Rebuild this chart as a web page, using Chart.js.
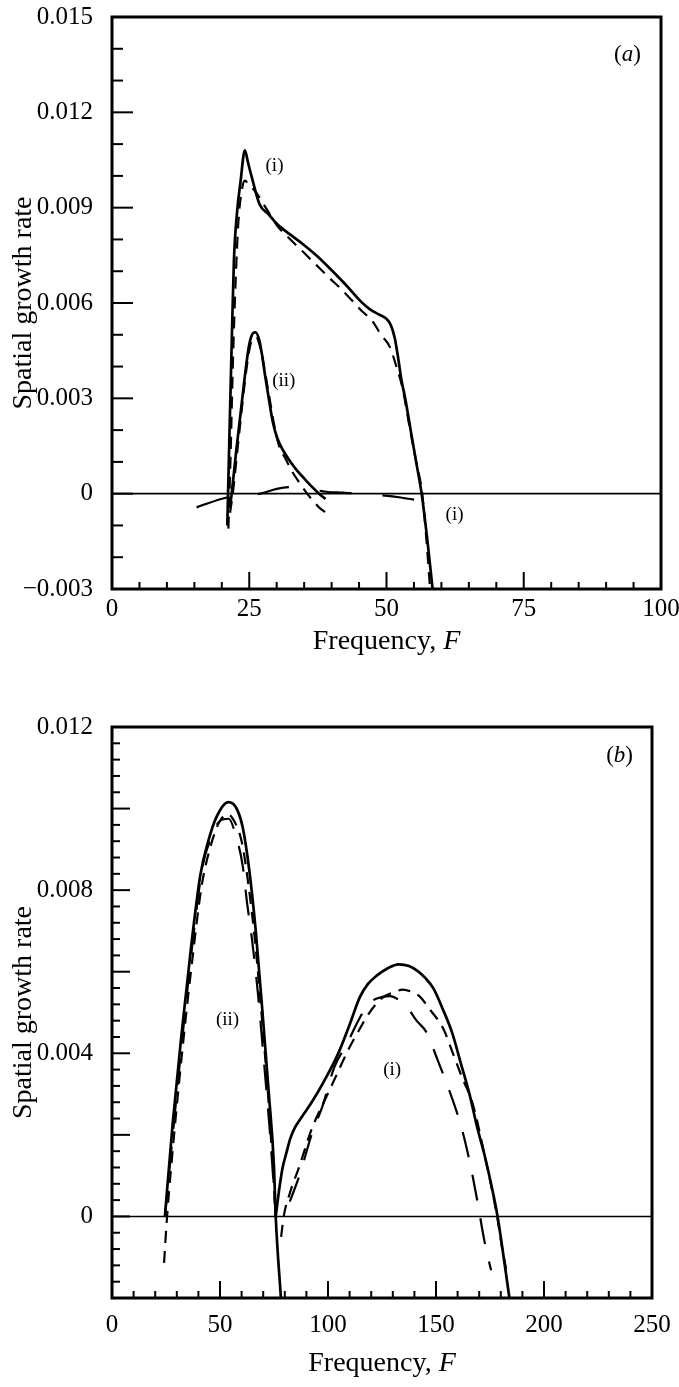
<!DOCTYPE html>
<html>
<head>
<meta charset="utf-8">
<script src="https://cdn.jsdelivr.net/npm/chart.js@4.4.1/dist/chart.umd.min.js"></script>
<style>
  html, body { margin: 0; padding: 0; background: #fff; }
  .panel { position: absolute; left: 0; width: 679px; }
  #wrapA { top: 0; height: 690px; }
  #wrapB { top: 690px; height: 697px; }
</style>
</head>
<body>
<div class="panel" id="wrapA"><canvas id="chartA"></canvas></div>
<div class="panel" id="wrapB"><canvas id="chartB"></canvas></div>
<script>
// ---- panel (a): F 0..100 ----
const aSolid1F = [21.0, 21.4, 21.8, 22.2, 22.8, 23.4, 24.2, 24.8, 25.4, 26.9, 28.5, 30.1, 32.5, 34.8, 37.2, 39.6, 42.7, 45.3, 47.0, 48.5, 50.0, 50.8, 51.5, 52.1, 52.7, 53.4, 54.4, 55.4, 56.4, 57.4, 58.4];
const aSolid1V = [-0.0010, 0.0019, 0.0047, 0.0073, 0.0089, 0.0098, 0.0108, 0.0104, 0.0100, 0.0091, 0.0088, 0.00848, 0.00815, 0.00785, 0.0075, 0.0071, 0.00655, 0.00605, 0.0058, 0.00565, 0.0055, 0.0053, 0.0049, 0.0043, 0.0036, 0.0030, 0.0020, 0.0010, 0.0, -0.0014, -0.0030];

const aDash1F = [21.2, 21.6, 22.0, 22.5, 23.0, 23.6, 24.2, 25.0, 26.1, 28.0, 30.1, 32.5, 34.8, 37.2, 39.6, 41.5, 43.5, 45.5, 47.4, 49.0, 50.6, 51.8, 53.0, 54.1, 55.3, 56.5, 57.2, 57.9];
const aDash1V = [-0.0011, 0.0012, 0.0040, 0.0066, 0.0085, 0.0095, 0.00985, 0.0097, 0.00951, 0.0090, 0.00843, 0.0080, 0.00761, 0.0072, 0.00679, 0.00648, 0.00612, 0.00575, 0.00544, 0.0050, 0.00462, 0.0040, 0.00326, 0.0022, 0.0011, 0.0, -0.0013, -0.0029];

const aSolid2F = [21.5, 21.8, 22.6, 23.4, 24.2, 24.9, 25.5, 26.1, 26.8, 27.3, 27.9, 28.5, 29.3, 30.1, 31.2, 32.3, 33.6, 35.0, 36.4, 37.7, 38.9];
const aSolid2V = [-0.0004, 0.0, 0.0013, 0.0025, 0.0037, 0.0046, 0.0050, 0.00508, 0.00485, 0.0044, 0.0037, 0.00306, 0.00225, 0.00175, 0.00135, 0.00105, 0.00075, 0.00048, 0.00022, 0.0, -0.00017];

const aDash2F = [21.5, 22.0, 22.8, 23.6, 24.4, 25.1, 25.7, 26.3, 27.0, 27.8, 28.6, 29.5, 30.4, 31.6, 32.8, 34.0, 35.2, 36.5, 37.7, 38.8, 39.8];
const aDash2V = [-0.0006, 0.0, 0.0013, 0.0026, 0.0038, 0.0046, 0.0049, 0.0049, 0.0046, 0.0039, 0.0031, 0.0022, 0.00152, 0.0011, 0.0007, 0.00038, 0.00008, -0.0002, -0.00043, -0.00058, -0.00069];

const aLongF = [15.4, 20.9, 24.0, 27.0, 30.0, 32.8, 36.0, 39.0, 42.0, 45.0, 49.0, 52.6, 56.0, 60.1];
const aLongV = [-0.00043, -0.00012, -0.00005, 0.0, 0.00015, 0.00021, 0.00015, 0.00006, 0.00003, 0.0, -0.00005, -0.00012, -0.00022, -0.00035];

const aXLabels = [0, 25, 50, 75, 100];
const aYLabels = [-0.003, 0, 0.003, 0.006, 0.009, 0.012, 0.015];
const aNoteText = ['(i)', '(ii)', '(i)'];
const aNoteF = [29.6, 31.3, 62.4];
const aNoteV = [0.0103, 0.00354, -0.00068];

// ---- panel (b): F 0..250 ----
const bSolid2F = [24.5, 28.1, 32.1, 36.5, 40.9, 44.5, 48.5, 53.9, 57.5, 60.5, 63.6, 66.6, 69.6, 72.6, 75.0, 75.8, 78.2];
const bSolid2V = [0, 0.00228, 0.00442, 0.00655, 0.00837, 0.00919, 0.00981, 0.01016, 0.01002, 0.00954, 0.00847, 0.00697, 0.00505, 0.00302, 0.00121, 0, -0.002];

const bDash2F = [24.1, 25.5, 29.0, 33.0, 37.3, 41.5, 45.5, 49.5, 53.5, 57.0, 60.0, 63.0, 66.5, 69.5, 72.5, 75.8];
const bDash2V = [-0.00114, 0, 0.00215, 0.0043, 0.00635, 0.0081, 0.00905, 0.00965, 0.00986, 0.00965, 0.0092, 0.0082, 0.0066, 0.0048, 0.0028, 0];

const bLong2F = [24.5, 28.5, 33.0, 37.5, 42.0, 46.0, 50.0, 54.0, 57.5, 60.5, 62.5, 64.8, 67.5, 70.5, 73.5, 75.8];
const bLong2V = [0, 0.0022, 0.0046, 0.0068, 0.0086, 0.0093, 0.0097, 0.00975, 0.0093, 0.0086, 0.0077, 0.0068, 0.0055, 0.0037, 0.0018, 0];

const bSolid1F = [75.8, 77.5, 79.0, 80.6, 82.5, 84.6, 88.0, 92.6, 98.0, 104.6, 110.0, 114.7, 118.5, 122.7, 127.5, 132.7, 137.5, 141.7, 145.0, 148.8, 153.0, 157.5, 161.5, 165.5, 169.0, 172.5, 175.5, 178.5, 184.0];
const bSolid1V = [0, 0.0007, 0.0012, 0.00153, 0.0019, 0.00217, 0.00245, 0.00281, 0.0033, 0.00398, 0.0047, 0.00537, 0.0057, 0.00591, 0.00608, 0.00618, 0.00614, 0.00601, 0.00585, 0.00559, 0.0051, 0.0045, 0.00375, 0.0030, 0.0022, 0.0015, 0.0008, 0, -0.002];

const bDash1F = [78.3, 79.5, 82.5, 86.5, 92.5, 98.5, 104.5, 109.5, 114.6, 118.6, 122.6, 126.6, 130.6, 134.6, 138.6, 142.3, 147.1, 153.4, 158.1, 162.1, 166.8, 172.5, 178.3, 180.7, 182.5];
const bDash1V = [-0.0005, 0, 0.0006, 0.00119, 0.00215, 0.00285, 0.00353, 0.0041, 0.00459, 0.00495, 0.00523, 0.00541, 0.0055, 0.00556, 0.00551, 0.0054, 0.00508, 0.0046, 0.00396, 0.0034, 0.0028, 0.0015, 0, -0.0008, -0.0013];

const bLong1F = [82.3, 87.0, 92.6, 97.3, 102.8, 109.2, 114.0, 118.6, 123.0, 128.6, 133.0, 137.0, 141.0, 145.5, 151.0, 157.3, 162.1, 166.0, 169.2, 172.4, 175.5];
const bLong1V = [0.00036, 0.00104, 0.00204, 0.00268, 0.00364, 0.00428, 0.0048, 0.0052, 0.00535, 0.0054, 0.0053, 0.0051, 0.0048, 0.00452, 0.0038, 0.00292, 0.00212, 0.00124, 0.00036, -0.0006, -0.00132];

const bXLabels = [0, 50, 100, 150, 200, 250];
const bYLabels = [0, 0.004, 0.008, 0.012];
const bYLong = [-0.002, 0, 0.002, 0.004, 0.006, 0.008, 0.010, 0.012];
const bNoteText = ['(ii)', '(i)'];
const bNoteF = [53.5, 129.7];
const bNoteV = [0.00482, 0.00359];

const SERIF = "'Liberation Serif', 'DejaVu Serif', serif";

function has(arr, v) { return arr.some(m => Math.abs(m - v) < 1e-9); }
function fmtY(v) {
  if (Math.abs(v) < 1e-12) return '0';
  return (v < 0 ? '\u2212' : '') + Math.abs(v).toFixed(3);
}

function line(xs, ys, style) {
  return Object.assign({
    data: xs.map((x, i) => ({ x: x, y: ys[i] })),
    borderColor: '#000',
    pointRadius: 0,
    fill: false,
    cubicInterpolationMode: 'monotone'
  }, style);
}
const SOLID = { borderWidth: 2.7 };
const SHORT = { borderWidth: 2.2, borderDash: [12, 8] };
const LONG  = { borderWidth: 2.2, borderDash: [26, 18] };

// text with some italic parts, centred on (cx, cy)
function drawMixed(ctx, parts, size, cx, cy) {
  let w = 0;
  parts.forEach(p => { ctx.font = (p[1] ? 'italic ' : '') + size + 'px ' + SERIF; w += ctx.measureText(p[0]).width; });
  let x = cx - w / 2;
  ctx.textAlign = 'left';
  ctx.textBaseline = 'middle';
  parts.forEach(p => {
    ctx.font = (p[1] ? 'italic ' : '') + size + 'px ' + SERIF;
    ctx.fillText(p[0], x, cy);
    x += ctx.measureText(p[0]).width;
  });
}

// frame, zero line, inward ticks, labels inside the plot, x title
function paper(ax) {
  return {
    id: 'paper' + ax.name,
    afterDatasetsDraw(chart) {
      const ctx = chart.ctx, a = chart.chartArea;
      const xs = chart.scales.x, ys = chart.scales.y;
      ctx.save();
      ctx.strokeStyle = '#000';
      ctx.fillStyle = '#000';

      const y0 = ys.getPixelForValue(0);
      ctx.lineWidth = 1.6;
      ctx.beginPath(); ctx.moveTo(a.left, y0); ctx.lineTo(a.right, y0); ctx.stroke();

      ctx.lineWidth = 2;
      xs.ticks.forEach(t => {
        const x = xs.getPixelForValue(t.value);
        const len = has(ax.xLabels, t.value) ? ax.xLong : ax.xShort;
        ctx.beginPath(); ctx.moveTo(x, a.bottom); ctx.lineTo(x, a.bottom - len); ctx.stroke();
      });
      ys.ticks.forEach(t => {
        const y = ys.getPixelForValue(t.value);
        const len = has(ax.yLongTicks, t.value) ? ax.yLong : ax.yShort;
        ctx.beginPath(); ctx.moveTo(a.left, y); ctx.lineTo(a.left + len, y); ctx.stroke();
      });

      ctx.lineWidth = 3;
      ctx.strokeRect(a.left, a.top, a.right - a.left, a.bottom - a.top);

      ctx.font = '19px ' + SERIF;
      ctx.textAlign = 'center';
      ctx.textBaseline = 'middle';
      ax.notes.forEach((txt, i) => {
        ctx.fillText(txt, xs.getPixelForValue(ax.noteF[i]), ys.getPixelForValue(ax.noteV[i]));
      });
      drawMixed(ctx, [['(', false], [ax.tag[0], true], [')', false]], 23,
        xs.getPixelForValue(ax.tag[1]), ys.getPixelForValue(ax.tag[2]));

      drawMixed(ctx, [['Frequency, ', false], ['F', true]], 28,
        (a.left + a.right) / 2, a.bottom + ax.titleOffset);
      ctx.restore();
    }
  };
}

function makeChart(id, datasets, ax) {
  return new Chart(document.getElementById(id), {
    type: 'line',
    data: { datasets: datasets },
    options: {
      responsive: true,
      maintainAspectRatio: false,
      animation: false,
      layout: { padding: { top: ax.padTop, right: ax.padRight, left: 0, bottom: 0 } },
      plugins: { legend: { display: false }, tooltip: { enabled: false } },
      scales: {
        x: {
          type: 'linear', min: ax.xMin, max: ax.xMax,
          grid: { display: false, drawTicks: false }, border: { display: false },
          ticks: {
            stepSize: ax.xStep, autoSkip: false, maxRotation: 0, padding: ax.xPad,
            color: '#000', font: { family: SERIF, size: 25 },
            callback: v => has(ax.xLabels, v) ? String(v) : ''
          },
          afterFit: s => { s.height = ax.xHeight; s.paddingLeft = 0; s.paddingRight = 0; }
        },
        y: {
          type: 'linear', min: ax.yMin, max: ax.yMax,
          grid: { display: false, drawTicks: false }, border: { display: false },
          ticks: {
            stepSize: ax.yStep, autoSkip: false, padding: 19,
            color: '#000', font: { family: SERIF, size: 25 },
            callback: v => has(ax.yLabels, v) ? fmtY(v) : ''
          },
          title: {
            display: true, text: 'Spatial growth rate', color: '#000',
            font: { family: SERIF, size: 28 }, padding: { top: 7, bottom: 0 }
          },
          afterFit: s => { s.width = 112; s.paddingTop = 0; s.paddingBottom = 0; }
        }
      }
    },
    plugins: [paper(ax)]
  });
}

makeChart('chartA', [
  line(aSolid1F, aSolid1V, SOLID),
  line(aDash1F, aDash1V, SHORT),
  line(aSolid2F, aSolid2V, SOLID),
  line(aDash2F, aDash2V, SHORT),
  line(aLongF, aLongV, { borderWidth: 2.2, borderDash: [32, 31] })
], {
  name: 'A', xMin: 0, xMax: 100, xStep: 5, yMin: -0.003, yMax: 0.015, yStep: 0.001,
  xLabels: aXLabels, yLabels: aYLabels, yLongTicks: aYLabels,
  xLong: 17, xShort: 7, yLong: 21, yShort: 11,
  padTop: 17, padRight: 18, xHeight: 101, xPad: 5, titleOffset: 53,
  notes: aNoteText, noteF: aNoteF, noteV: aNoteV, tag: ['a', 93.9, 0.0138]
});

makeChart('chartB', [
  line(bSolid2F, bSolid2V, SOLID),
  line(bDash2F, bDash2V, SHORT),
  line(bLong2F, bLong2V, LONG),
  line(bSolid1F, bSolid1V, SOLID),
  line(bDash1F, bDash1V, SHORT),
  line(bLong1F, bLong1V, LONG)
], {
  name: 'B', xMin: 0, xMax: 250, xStep: 10, yMin: -0.002, yMax: 0.012, yStep: 0.0004,
  xLabels: bXLabels, yLabels: bYLabels, yLongTicks: bYLong,
  xLong: 17, xShort: 7, yLong: 18, yShort: 8,
  padTop: 37, padRight: 27, xHeight: 89, xPad: 12, titleOffset: 66,
  notes: bNoteText, noteF: bNoteF, noteV: bNoteV, tag: ['b', 235, 0.0113]
});
</script>
</body>
</html>
